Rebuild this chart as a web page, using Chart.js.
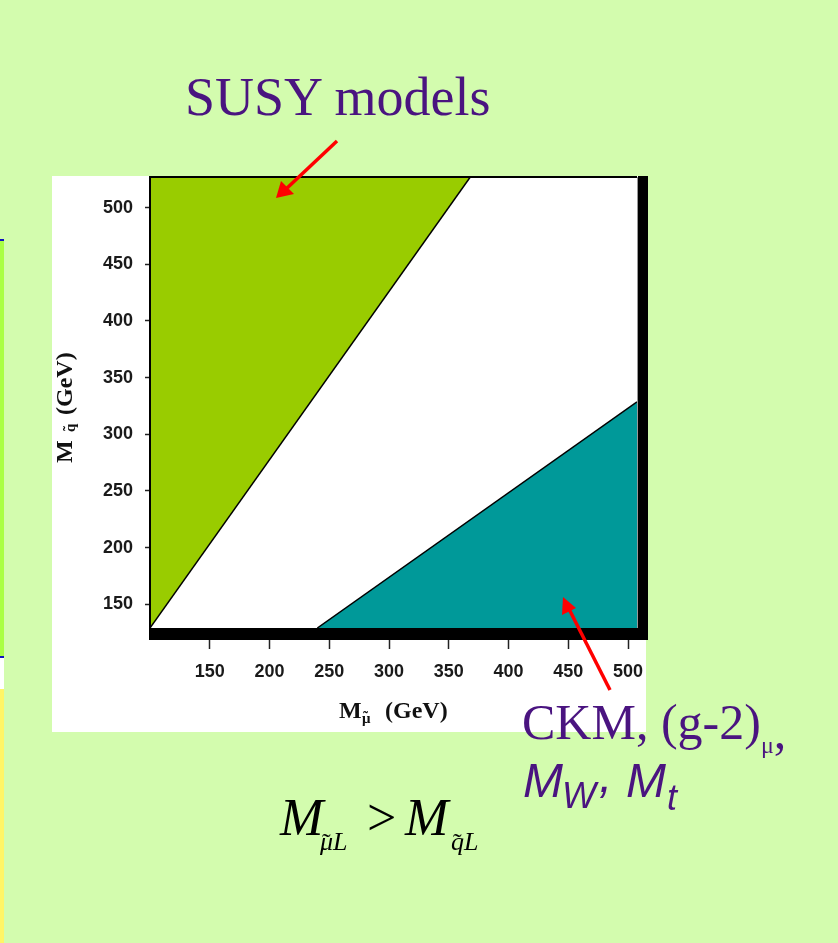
<!DOCTYPE html>
<html><head><meta charset="utf-8">
<script src="https://cdn.jsdelivr.net/npm/chart.js@4.4.0/dist/chart.umd.min.js"></script>
<style>
html,body{margin:0;padding:0;}
body{width:838px;height:943px;background:#d3fcae;position:relative;overflow:hidden;}
#panel{position:absolute;left:52px;top:176px;width:594px;height:556px;background:#fff;}
#c{position:absolute;left:52px;top:176px;}
svg{position:absolute;left:0;top:0;}
.e{position:absolute;left:0;width:4px;}
</style></head><body>
<div class="e" style="top:239px;height:2px;background:#1010c0"></div>
<div class="e" style="top:241px;height:415px;background:#aaff44"></div>
<div class="e" style="top:656px;height:2px;background:#1010c0"></div>
<div class="e" style="top:658px;height:31px;background:#ffffff"></div>
<div class="e" style="top:689px;height:254px;background:#fff566"></div>
<div id="panel"></div>
<canvas id="c" width="596" height="556"></canvas>
<svg width="838" height="943" font-family="'Liberation Serif','Times New Roman',serif">
  <text x="185" y="115" font-size="54" fill="#4a1480">SUSY models</text>
  <line x1="337" y1="141" x2="285" y2="190" stroke="#ff0000" stroke-width="3.5"/>
  <polygon points="276,198 281,181 294,194" fill="#ff0000"/>
  <line x1="610" y1="690" x2="568" y2="607" stroke="#ff0000" stroke-width="3.5"/>
  <polygon points="563,597 562,615 576,608" fill="#ff0000"/>
  <text x="522" y="739" font-size="50" fill="#4a1480">CKM, (g-2)<tspan font-size="24" dy="14">μ</tspan><tspan dy="-5">,</tspan></text>
  <text y="797" font-family="'Liberation Sans',Arial,sans-serif" font-style="italic" font-size="48" fill="#4a1480"><tspan x="523">M</tspan><tspan x="562" font-size="36" dy="11">W</tspan><tspan x="599" dy="-16">,</tspan><tspan x="626" dy="5">M</tspan><tspan x="667" font-size="36" dy="13">t</tspan></text>
  <text y="835" font-size="52" fill="#000"><tspan x="280" font-style="italic">M</tspan><tspan x="367">&gt;</tspan><tspan x="405" font-style="italic">M</tspan></text>
  <text y="850" font-size="26" font-style="italic" fill="#000"><tspan x="320">μ</tspan><tspan x="333">L</tspan><tspan x="451">q</tspan><tspan x="464">L</tspan></text>
  <text y="851" font-size="26" fill="#000"><tspan x="322">˜</tspan><tspan x="453">˜</tspan></text>
</svg>
<script>
// ---- data ----
const xTickValues = [150, 200, 250, 300, 350, 400, 450, 500];
const yTickValues = [150, 200, 250, 300, 350, 400, 450, 500];
const xRange = [100, 507.5];
const yRange = [129, 527];
// boundary of the "SUSY models" region (filled above the line)
const susyX = [100, 368];
const susyY = [129, 527];
// boundary of the "CKM, (g-2)mu, MW, Mt" region (filled below the line)
const ckmX = [240, 507.5];
const ckmY = [129, 328.5];
const xTitleMain = 'M', xTitleSub = 'μ', xTitleUnit = '(GeV)';
const yTitleMain = 'M', yTitleSub = 'q', yTitleUnit = '(GeV)';

const pts = (xs, ys) => xs.map((x, i) => ({x, y: ys[i]}));

const framePlugin = {
  id: 'frame',
  afterDatasetsDraw(chart) {
    const {ctx} = chart; const {left, top, right, bottom} = chart.chartArea;
    ctx.save();
    ctx.fillStyle = '#000';
    ctx.fillRect(left - 1, top - 1, right - left + 1, 2);
    ctx.fillRect(left - 1, top - 1, 2, bottom - top + 2);
    ctx.fillStyle = '#999';
    ctx.fillRect(right, top, 1, bottom - top);
    ctx.fillStyle = '#000';
    ctx.fillRect(right + 1, top - 1, 10, bottom - top + 13);
    ctx.fillRect(left - 1, bottom, right - left + 12, 12);
    ctx.restore();
  },
  afterDraw(chart) {
    const {ctx} = chart;
    ctx.save();
    ctx.fillStyle = '#111';
    ctx.textBaseline = 'alphabetic';
    // x title
    ctx.font = 'bold 24px "Liberation Serif"';
    ctx.fillText(xTitleMain, 287, 542);
    ctx.font = 'bold 15px "Liberation Serif"';
    ctx.fillText(xTitleSub, 310, 547);
    ctx.fillText('˜', 311, 545);
    ctx.font = 'bold 24px "Liberation Serif"';
    ctx.fillText(xTitleUnit, 333, 542);
    // y title (rotated)
    ctx.translate(20, 287);
    ctx.rotate(-Math.PI / 2);
    ctx.font = 'bold 24px "Liberation Serif"';
    ctx.fillText(yTitleMain, 0, 0);
    ctx.font = 'bold 15px "Liberation Serif"';
    ctx.fillText(yTitleSub, 31, 3);
    ctx.fillText('˜', 32, 1);
    ctx.font = 'bold 24px "Liberation Serif"';
    ctx.fillText(yTitleUnit, 48, 0);
    ctx.restore();
  }
};

const tickFont = {family: '"Liberation Sans", Arial, sans-serif', weight: 'bold', size: 18};
const noPad = s => { s.paddingTop = 0; s.paddingBottom = 0; s.paddingLeft = 0; s.paddingRight = 0; };

new Chart(document.getElementById('c'), {
  type: 'line',
  data: {
    datasets: [
      {data: pts(susyX, susyY), fill: 'end', backgroundColor: '#99cc00', borderColor: '#000', borderWidth: 1.5, pointRadius: 0, tension: 0},
      {data: pts(ckmX, ckmY), fill: 'start', backgroundColor: '#009999', borderColor: '#000', borderWidth: 1.5, pointRadius: 0, tension: 0}
    ]
  },
  options: {
    responsive: false,
    devicePixelRatio: 1,
    animation: false,
    layout: {padding: {top: 1, right: 11, left: 0, bottom: 0}},
    plugins: {legend: {display: false}, tooltip: {enabled: false}},
    scales: {
      x: {
        type: 'linear', min: xRange[0], max: xRange[1],
        afterBuildTicks: s => { s.ticks = xTickValues.map(v => ({value: v})); },
        afterFit: s => { s.height = 104; noPad(s); },
        border: {display: false},
        grid: {drawOnChartArea: false, drawTicks: true, tickLength: 21, tickColor: '#222', tickWidth: 1.5},
        ticks: {font: tickFont, color: '#1a1a1a', padding: 12, maxRotation: 0, autoSkip: false}
      },
      y: {
        type: 'linear', min: yRange[0], max: yRange[1],
        afterBuildTicks: s => { s.ticks = yTickValues.map(v => ({value: v})); },
        afterFit: s => { s.width = 98; noPad(s); },
        border: {display: false},
        grid: {drawOnChartArea: false, drawTicks: true, tickLength: 5, tickColor: '#222', tickWidth: 1.5},
        ticks: {font: tickFont, color: '#1a1a1a', padding: 12, autoSkip: false}
      }
    }
  },
  plugins: [framePlugin]
});
</script>
</body></html>
